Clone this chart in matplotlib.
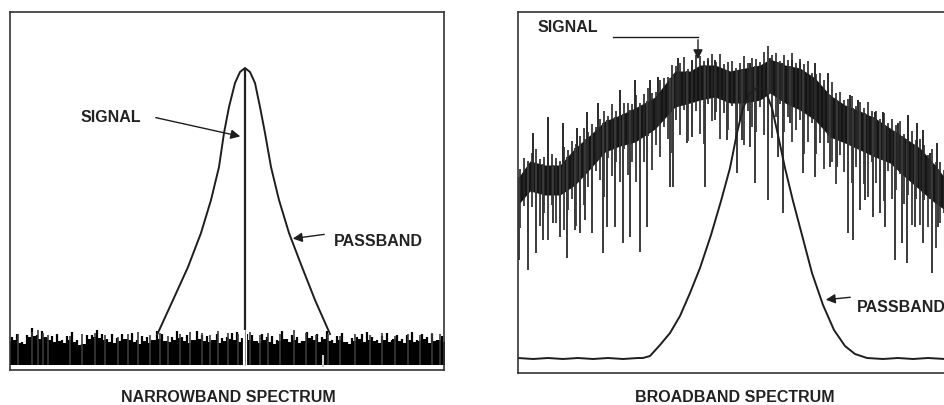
import matplotlib.pyplot as plt
import numpy as np

plt.rcParams['font.family'] = ['Liberation Sans', 'DejaVu Sans']

# ---- narrowband panel (frequency bins 0..434, amplitude 0..358) ----
nb_pass_x = [147, 163, 178, 191, 201, 209, 214, 219, 225, 230, 235, 240, 245,
             250, 255, 261, 269, 279, 292, 305, 320]
nb_pass_y = [35, 70, 103, 137, 170, 203, 237, 263, 287, 298, 302, 298, 287,
             263, 237, 203, 170, 137, 103, 70, 36]
nb_signal_bin = 235
nb_signal_peak = 302

nb_noise_bins = np.arange(0, 440, 5)
nb_noise_top = [29, 30, 27, 26, 33, 34, 31, 33, 30, 28, 29, 27, 30, 28, 25, 26, 31, 33, 32, 30,
                28, 27, 29, 31, 30, 28, 26, 29, 27, 30, 31, 29, 28, 30, 32, 29, 27, 30, 31, 29,
                28, 30, 27, 29, 31, 30, 28, 32, 30, 29, 27, 30, 28, 26, 29, 31, 28, 30, 27, 29,
                32, 30, 28, 31, 29, 27, 30, 28, 26, 29, 31, 28, 30, 29, 27, 30, 28, 31, 29, 27,
                30, 28, 29, 31, 27, 29, 30, 28]
nb_noise_floor = 5
nb_stroke_bins = np.arange(2.5, 435, 5)
nb_stroke_up = [4, 8, 2, 6, 9, 3, 7, 1, 5, 8, 2, 6, 9, 4, 1, 7, 3, 8, 5, 2,
                9, 4, 6, 1, 8, 3, 7, 5, 2, 9, 6, 1, 4, 8, 3, 7, 2, 9, 5, 6,
                1, 8, 4, 3, 7, 9, 2, 5, 6, 1, 8, 4, 7, 3, 9, 2, 6, 5, 1, 8,
                3, 7, 4, 9, 2, 6, 8, 1, 5, 3, 7, 9, 4, 2, 6, 8, 1, 5, 3, 7,
                9, 2, 6, 4, 8, 1, 5]
nb_spike_bins = [8, 22, 28, 33, 38, 60, 72, 85, 95, 108, 118, 128, 140, 150, 158, 170, 180, 192,
                 200, 208, 218, 228, 240, 250, 258, 270, 284, 296, 306, 318, 330, 345, 360, 372,
                 385, 398, 410, 422, 430]
nb_spike_top = [36, 38, 40, 37, 35, 34, 36, 37, 35, 33, 36, 38, 35, 37, 34, 36, 38, 37,
                35, 39, 37, 36, 38, 35, 37, 36, 40, 37, 35, 36, 34, 36, 35, 37, 34,
                36, 35, 37, 36]

# ---- broadband panel (frequency bins 0..442, amplitude 0..361) ----
bb_pass_x = [0, 15, 30, 45, 60, 75, 90, 105, 120, 125, 132, 142, 152, 162, 172, 182, 193, 203,
             212, 219, 225, 232, 240, 247, 254, 260, 267, 275, 284, 294, 305, 316, 327, 337,
             349, 365, 380, 395, 410, 427, 442]
bb_pass_y = [15, 14, 15, 14, 15, 14, 15, 14, 15, 15, 17, 28, 40, 57, 80, 105, 138, 172,
             205, 240, 265, 280, 286, 283, 265, 238, 205, 172, 138, 100, 68, 43, 27, 19,
             15, 14, 15, 14, 15, 14, 15]

bb_band_x = [0, 12, 27, 42, 57, 72, 87, 102, 117, 137, 157, 172, 182, 197, 212, 227, 242, 252,
             267, 282, 297, 312, 327, 342, 357, 372, 387, 402, 417, 427, 442]
bb_band_top = [195, 212, 208, 208, 225, 238, 252, 258, 265, 276, 302, 302, 308, 308, 302, 305,
               308, 314, 308, 305, 295, 278, 268, 262, 255, 245, 235, 225, 208, 195, 190]
bb_band_bot = [168, 182, 178, 178, 188, 204, 221, 227, 231, 244, 266, 270, 273, 276, 270, 270,
               273, 280, 270, 263, 253, 236, 230, 223, 216, 210, 196, 183, 170, 163, 158]

# short strokes of the trace sticking out of the dense band
bb_stroke_bins = np.arange(2, 442, 4)
bb_stroke_up = [6, 12, 3, 9, 14, 5, 8, 2, 11, 7, 4, 13, 6, 10, 3, 8, 12, 5, 9, 2,
                7, 11, 4, 14, 6, 3, 10, 8, 5, 12, 2, 9, 13, 6, 4, 11, 7, 3, 10, 5,
                8, 14, 2, 6, 12, 9, 4, 7, 11, 3, 13, 5, 8, 10, 2, 6, 12, 4, 9, 7,
                3, 11, 14, 5, 8, 2, 10, 6, 13, 4, 9, 7, 12, 3, 5, 11, 8, 2, 14, 6,
                10, 4, 7, 12, 3, 9, 5, 13, 6, 8, 2, 11, 4, 10, 7, 14, 3, 6, 12, 5,
                9, 8, 2, 13, 4, 10, 7, 11, 5, 3]
bb_stroke_down = [25, 8, 40, 15, 5, 32, 18, 45, 10, 28, 6, 38, 20, 12, 42, 3, 30, 16, 35, 9,
                  22, 44, 7, 27, 14, 36, 4, 31, 19, 41, 11, 26, 2, 39, 17, 33, 8, 24, 43, 13,
                  29, 5, 37, 21, 10, 34, 45, 6, 23, 15, 40, 12, 28, 3, 35, 18, 42, 9, 25, 31,
                  7, 38, 16, 44, 20, 4, 30, 13, 36, 22, 10, 41, 27, 5, 33, 17, 39, 8, 24, 45,
                  14, 29, 3, 37, 19, 11, 32, 43, 6, 26, 18, 40, 9, 34, 21, 2, 28, 15, 42, 12,
                  35, 7, 30, 23, 44, 16, 4, 38, 25, 11]

bb_dip_bins = [1, 10, 18, 25, 35, 42, 49, 57, 62, 67, 74, 85, 89, 97, 105, 112, 122, 129,
               152, 155, 169, 174, 187, 197, 209, 219, 224, 232, 237, 250, 260, 265, 272,
               285, 297, 312, 319, 330, 335, 342, 347, 355, 362, 367, 377, 384, 389, 397,
               405, 414, 420]
bb_dip_low = [113, 103, 120, 133, 150, 136, 115, 143, 140, 153, 140, 120, 146, 146, 130, 136,
              121, 146, 186, 186, 230, 236, 186, 253, 233, 200, 233, 226, 190, 173, 216, 160,
              250, 200, 196, 206, 206, 140, 133, 163, 173, 156, 160, 146, 113, 130, 110, 146,
              130, 100, 146]
bb_peak_bins = [15, 30, 45, 59, 69, 80, 102, 117, 132, 140, 160, 174, 190, 197, 232, 252, 264,
                274, 282, 297, 310, 332, 340, 357, 365, 380, 390, 399, 405, 412, 419]
bb_peak_high = [240, 256, 250, 245, 261, 270, 283, 293, 293, 296, 315, 313, 313, 313, 310, 315,
                310, 313, 311, 310, 300, 278, 273, 261, 261, 250, 258, 250, 243, 220, 230]

ink = '#1e1e1e'
fig = plt.figure(figsize=(9.45, 4.05), dpi=100)

# === NARROWBAND ===
ax1 = fig.add_axes([10 / 945, 35 / 405, 434 / 945, 358 / 405])
ax1.set_xlim(0, 434)
ax1.set_ylim(0, 358)
ax1.fill_between(nb_noise_bins, nb_noise_floor, nb_noise_top, color='black', lw=0, step='mid')
stroke_base = np.interp(nb_stroke_bins, nb_noise_bins, nb_noise_top)
ax1.vlines(nb_stroke_bins, nb_noise_floor, stroke_base + np.array(nb_stroke_up),
           color='black', lw=1.6)
ax1.vlines(nb_spike_bins, nb_noise_floor, nb_spike_top, color='#3a3a3a', lw=1.2)
ax1.plot(nb_pass_x, nb_pass_y, color=ink, lw=1.4)
noise_at_signal = max(nb_spike_top)
ax1.vlines(nb_signal_bin, nb_noise_floor, noise_at_signal, color='white', lw=3)
ax1.vlines(nb_signal_bin, nb_noise_floor, noise_at_signal, color='#888888', lw=0.8)
ax1.vlines(nb_signal_bin, noise_at_signal, nb_signal_peak, color='#222222', lw=1.6)
ax1.vlines(313, 3, 15, color='#cccccc', lw=1.5)
ax1.text(101, 253, 'SIGNAL', ha='center', va='center', fontsize=11.5,
         fontweight='bold', color='#222222')
ax1.annotate('', xy=(233, 233), xytext=(143, 253),
             arrowprops=dict(arrowstyle='-|>', color=ink, lw=1.0, mutation_scale=14))
ax1.text(324, 128, 'PASSBAND', ha='left', va='center', fontsize=11.5,
         fontweight='bold', color='#222222')
ax1.annotate('', xy=(280, 131), xytext=(317, 136),
             arrowprops=dict(arrowstyle='-|>', color=ink, lw=1.0, mutation_scale=14))

# === BROADBAND ===
ax2 = fig.add_axes([518 / 945, 32 / 405, 442 / 945, 361 / 405])
ax2.set_xlim(0, 442)
ax2.set_ylim(0, 361)
ax2.fill_between(bb_band_x, bb_band_bot, bb_band_top, color='#151515', lw=0)
s_top = np.interp(bb_stroke_bins, bb_band_x, bb_band_top) + np.array(bb_stroke_up)
s_bot = np.interp(bb_stroke_bins, bb_band_x, bb_band_bot) - np.array(bb_stroke_down)
ax2.vlines(bb_stroke_bins, s_bot, s_top, color='#262626', lw=1.2)
dip_tops = np.interp(bb_dip_bins, bb_band_x, bb_band_top)
ax2.vlines(bb_dip_bins, bb_dip_low, dip_tops, color='#3a3a3a', lw=1.4)
peak_bots = np.interp(bb_peak_bins, bb_band_x, bb_band_bot)
ax2.vlines(bb_peak_bins, peak_bots, bb_peak_high, color='#2a2a2a', lw=1.4)
ax2.plot(bb_pass_x, bb_pass_y, color=ink, lw=1.4)
ax2.text(20, 345, 'SIGNAL', ha='left', va='center', fontsize=11.5,
         fontweight='bold', color='#222222')
ax2.plot([95, 180], [336, 336], color=ink, lw=1.0)
ax2.annotate('', xy=(180, 311), xytext=(180, 336),
             arrowprops=dict(arrowstyle='-|>', color=ink, lw=1.0, mutation_scale=14))
ax2.text(339, 66, 'PASSBAND', ha='left', va='center', fontsize=11.5,
         fontweight='bold', color='#222222')
ax2.annotate('', xy=(305, 73), xytext=(335, 76),
             arrowprops=dict(arrowstyle='-|>', color=ink, lw=1.0, mutation_scale=14))

for ax in (ax1, ax2):
    ax.set_xticks([])
    ax.set_yticks([])
    for sp in ax.spines.values():
        sp.set_color('#333333')
        sp.set_linewidth(1.2)

fig.text(228 / 945, 1 - 397 / 405, 'NARROWBAND SPECTRUM', ha='center', va='center',
         fontsize=11.5, fontweight='bold', color='#222222')
fig.text(735 / 945, 1 - 398 / 405, 'BROADBAND SPECTRUM', ha='center', va='center',
         fontsize=11.5, fontweight='bold', color='#222222')

fig.savefig('out.png', dpi=100)
